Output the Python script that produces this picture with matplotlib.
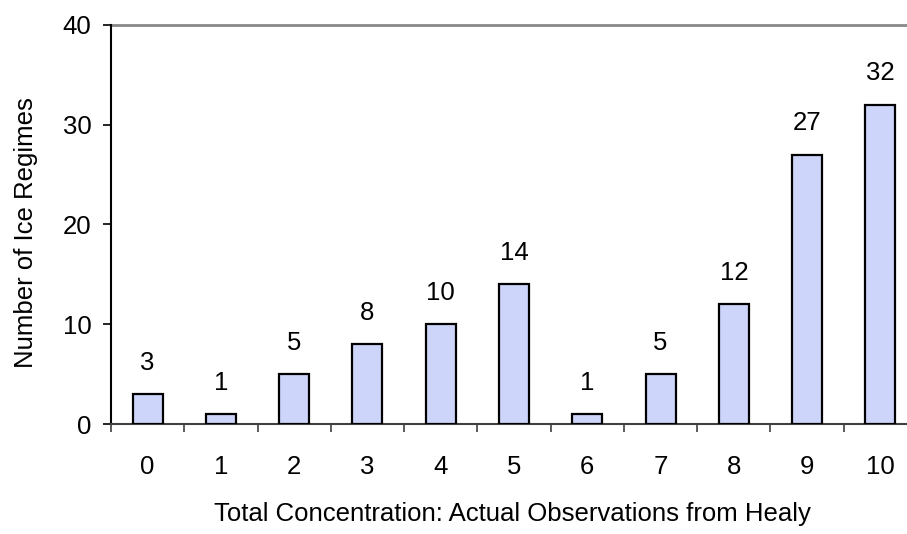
import matplotlib
matplotlib.use("Agg")
import matplotlib.pyplot as plt
import numpy as np

categories = ["0", "1", "2", "3", "4", "5", "6", "7", "8", "9", "10"]
counts = [3, 1, 5, 8, 10, 14, 1, 5, 12, 27, 32]
y_ticks = [0, 10, 20, 30, 40]

plt.rcParams['font.family'] = ['Liberation Sans', 'DejaVu Sans']
FS = 18.5

fig = plt.figure(figsize=(9.07, 5.34), dpi=100)
ax = fig.add_axes([111/907, 110/534, (917-111)/907, (424-25)/534])

x = np.arange(len(categories))
ax.bar(x, counts, width=0.41, color='#cdd5fb', edgecolor='black', linewidth=1.6, zorder=3)

for xi, v in zip(x, counts):
    ax.annotate(str(v), (xi, v), xytext=(0, 14), textcoords='offset points',
                ha='center', va='bottom', fontsize=FS)

ax.set_xlim(-0.5, len(categories) - 0.5)
ax.set_ylim(0, 40)
ax.set_yticks(y_ticks)
ax.set_yticklabels([str(t) for t in y_ticks], fontsize=FS)
ax.set_xticks(x)
ax.set_xticklabels(categories, fontsize=FS)
ax.set_xticks(np.arange(len(categories) + 1) - 0.5, minor=True)
ax.tick_params(axis='x', which='major', length=0, pad=22)
ax.tick_params(axis='x', which='minor', length=6, width=1.2, color='#404040')
ax.tick_params(axis='y', length=6, width=1.2, pad=8)

ax.axhline(40, color='#888888', linewidth=2.0, clip_on=False, zorder=2)
for s in ['top', 'right']:
    ax.spines[s].set_visible(False)
ax.spines['left'].set_linewidth(1.5)
ax.spines['left'].set_color('black')
ax.spines['bottom'].set_linewidth(1.5)
ax.spines['bottom'].set_color('#404040')

ax.set_ylabel('Number of Ice Regimes', fontsize=FS)
ax.set_xlabel('Total Concentration: Actual Observations from Healy', fontsize=FS)
ax.xaxis.set_label_coords((512 - 111) / (917 - 111), -(502 - 424) / (424 - 25))
ax.yaxis.set_label_coords(-(111 - 38) / (917 - 111), (424 - 233) / (424 - 25))

fig.savefig('out.png', dpi=100)
